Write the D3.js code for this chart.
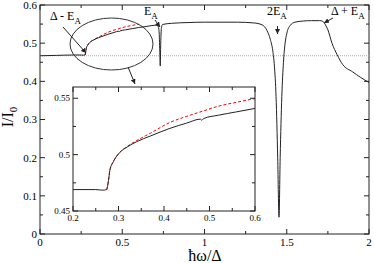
<!DOCTYPE html>
<html>
<head>
<meta charset="utf-8">
<script src="https://cdn.jsdelivr.net/npm/d3@7"></script>
<style>
  body { margin: 0; background: white; }
</style>
</head>
<body>
<div id="chart"></div>
<script>
// Main black curve (hbar omega / Delta, I/I0)
const omega = [0, 0.1, 0.2, 0.25, 0.265, 0.274, 0.278, 0.281, 0.289, 0.303, 0.32, 0.34, 0.37, 0.413, 0.45, 0.48, 0.483, 0.487, 0.52, 0.56, 0.60,
    0.65, 0.70, 0.718, 0.724, 0.728, 0.731, 0.734, 0.738, 0.745, 0.8, 0.9, 1.0, 1.1, 1.2, 1.3, 1.35, 1.38, 1.40, 1.415, 1.425, 1.435, 1.445, 1.453,
    1.46, 1.47, 1.48, 1.49, 1.50, 1.52, 1.55, 1.6, 1.65, 1.70, 1.72, 1.735, 1.75, 1.775, 1.806, 1.84, 1.9, 1.95, 2.0];
const intensity = [0.467, 0.468, 0.469, 0.469, 0.4685, 0.469, 0.477, 0.486, 0.494, 0.502, 0.507, 0.5115, 0.5165, 0.5233, 0.528, 0.5315, 0.5305, 0.532, 0.535, 0.538, 0.541,
    0.544, 0.547, 0.545, 0.53, 0.48, 0.44, 0.50, 0.54, 0.549, 0.552, 0.554, 0.555, 0.555, 0.555, 0.553, 0.548, 0.533, 0.51, 0.48, 0.44, 0.36, 0.20, 0.044,
    0.20, 0.36, 0.45, 0.50, 0.525, 0.546, 0.555, 0.558, 0.559, 0.559, 0.557, 0.548, 0.535, 0.50, 0.47, 0.444, 0.425, 0.41, 0.397];

// Red dashed curve
const omegaRed = [0.274, 0.278, 0.281, 0.289, 0.303, 0.32, 0.34, 0.37, 0.413, 0.45, 0.486, 0.52, 0.56, 0.60];
const intensityRed = [0.469, 0.477, 0.486, 0.494, 0.502, 0.5075, 0.5125, 0.519, 0.5285, 0.534, 0.5387, 0.543, 0.5465, 0.5497];

// Reference level (dotted)
const baseLevel = 0.467;

// Ticks
const xTicks = [0, 0.5, 1, 1.5, 2];
const xTickLabels = ['0', '0.5', '1', '1.5', '2'];
const yTicks = [0, 0.1, 0.2, 0.3, 0.4, 0.5, 0.6];
const yTickLabels = ['0', '0.1', '0.2', '0.3', '0.4', '0.5', '0.6'];
const insetXTicks = [0.2, 0.3, 0.4, 0.5, 0.6];
const insetXTickLabels = ['0.2', '0.3', '0.4', '0.5', '0.6'];
const insetYTicks = [0.45, 0.5, 0.55];
const insetYTickLabels = ['0.45', '0.5', '0.55'];

const width = 374, height = 263;

const svg = d3.select('#chart')
    .append('svg')
    .attr('width', width)
    .attr('height', height)
    .attr('font-family', '"Liberation Serif", "DejaVu Serif", serif')
    .style('background', 'white');

// arrow head
svg.append('defs').append('marker')
    .attr('id', 'arrow')
    .attr('viewBox', '0 0 10 10')
    .attr('refX', 10).attr('refY', 5)
    .attr('markerWidth', 5).attr('markerHeight', 5)
    .attr('markerUnits', 'userSpaceOnUse')
    .attr('orient', 'auto')
    .append('path')
    .attr('d', 'M0,0 L10,5 L0,10 z')
    .attr('fill', '#222');

// Main scales
const xScale = d3.scaleLinear().domain([0, 2]).range([40, 369]);
const yScale = d3.scaleLinear().domain([0, 0.6]).range([234, 5]);

// Framed axes with inward ticks on all four sides
function frame(g, xs, ys, xMajor, xLabels, xMinor, yMajor, yLabels, yMinor, fontSize, majLen, minLen, xLabOff, yLabOff) {
    const [x0, x1] = xs.range();
    const [y0, y1] = ys.range();
    g.append('rect')
        .attr('x', x0).attr('y', y1)
        .attr('width', x1 - x0).attr('height', y0 - y1)
        .attr('fill', 'none').attr('stroke', '#222').attr('stroke-width', 1);

    const tick = (x1_, y1_, x2_, y2_) => g.append('line')
        .attr('x1', x1_).attr('y1', y1_).attr('x2', x2_).attr('y2', y2_)
        .attr('stroke', '#222').attr('stroke-width', 1);

    xMajor.forEach(v => { tick(xs(v), y0, xs(v), y0 - majLen); tick(xs(v), y1, xs(v), y1 + majLen); });
    xMinor.forEach(v => { tick(xs(v), y0, xs(v), y0 - minLen); tick(xs(v), y1, xs(v), y1 + minLen); });
    yMajor.forEach(v => { tick(x0, ys(v), x0 + majLen, ys(v)); tick(x1, ys(v), x1 - majLen, ys(v)); });
    yMinor.forEach(v => { tick(x0, ys(v), x0 + minLen, ys(v)); tick(x1, ys(v), x1 - minLen, ys(v)); });

    g.selectAll('.xl').data(xMajor).enter().append('text')
        .attr('x', d => xs(d)).attr('y', y0 + xLabOff)
        .attr('text-anchor', 'middle')
        .style('font-size', fontSize + 'px')
        .text((d, i) => xLabels[i]);
    g.selectAll('.yl').data(yMajor).enter().append('text')
        .attr('x', x0 - yLabOff).attr('y', d => ys(d))
        .attr('dy', '0.35em')
        .attr('text-anchor', 'end')
        .style('font-size', fontSize + 'px')
        .text((d, i) => yLabels[i]);
}

const main = svg.append('g');
frame(main, xScale, yScale,
    xTicks, xTickLabels, [0.25, 0.75, 1.25, 1.75],
    yTicks, yTickLabels, [0.05, 0.15, 0.25, 0.35, 0.45, 0.55],
    11, 5, 3, 12, 3);

// dotted reference line
main.append('line')
    .attr('x1', xScale(0)).attr('x2', xScale(2))
    .attr('y1', yScale(baseLevel)).attr('y2', yScale(baseLevel))
    .attr('stroke', '#aaa').attr('stroke-width', 1)
    .attr('stroke-dasharray', '1,1');

const mainData = omega.map((w, i) => [w, intensity[i]]);
const redData = omegaRed.map((w, i) => [w, intensityRed[i]]);

const line = d3.line()
    .x(d => xScale(d[0]))
    .y(d => yScale(d[1]))
    .curve(d3.curveMonotoneX);

main.append('path')
    .datum(redData)
    .attr('d', line)
    .attr('fill', 'none').attr('stroke', '#ff0000').attr('stroke-width', 1)
    .attr('stroke-dasharray', '3,2');

main.append('path')
    .datum(mainData)
    .attr('d', line)
    .attr('fill', 'none').attr('stroke', '#222').attr('stroke-width', 1);

// ellipse around the onset and pointer to inset
main.append('ellipse')
    .attr('cx', 111.5).attr('cy', 44)
    .attr('rx', 41.5).attr('ry', 26)
    .attr('fill', 'none').attr('stroke', '#333').attr('stroke-width', 1);

main.append('line')
    .attr('x1', 128).attr('y1', 67).attr('x2', 135).attr('y2', 84)
    .attr('stroke', '#222').attr('marker-end', 'url(#arrow)');

// annotations
function label(x, y, pre, sub, anchorArrow) {
    const t = main.append('text').attr('x', x).attr('y', y).style('font-size', '12px');
    t.append('tspan').text(pre);
    t.append('tspan').attr('dy', 4).style('font-size', '9px').text(sub);
    if (anchorArrow) {
        main.append('line')
            .attr('x1', anchorArrow[0]).attr('y1', anchorArrow[1])
            .attr('x2', anchorArrow[2]).attr('y2', anchorArrow[3])
            .attr('stroke', '#222').attr('stroke-width', 1)
            .attr('marker-end', 'url(#arrow)');
    }
}
label(50, 20, 'Δ - E', 'A', [63, 27, 86, 53]);
label(144, 15, 'E', 'A', [155, 20, 160, 27]);
label(267, 15, '2E', 'A', [277.5, 26, 277.5, 34]);
label(331, 15, 'Δ + E', 'A', [333, 18, 324, 23]);

// axis titles
const ylab = svg.append('text')
    .attr('transform', 'translate(13,117) rotate(-90)')
    .attr('text-anchor', 'middle')
    .style('font-size', '16px');
ylab.append('tspan').text('I/I');
ylab.append('tspan').attr('dy', 4).style('font-size', '11px').text('0');

svg.append('text')
    .attr('x', 205).attr('y', 261)
    .attr('text-anchor', 'middle')
    .style('font-size', '16px')
    .text('ħω/Δ');

// Inset
const ixScale = d3.scaleLinear().domain([0.2, 0.6]).range([73, 255]);
const iyScale = d3.scaleLinear().domain([0.45, 0.56]).range([211, 87]);

const inset = svg.append('g');
inset.append('rect')
    .attr('x', 73).attr('y', 87).attr('width', 182).attr('height', 124)
    .attr('fill', 'white');

inset.append('clipPath').attr('id', 'insetClip')
    .append('rect').attr('x', 73).attr('y', 87).attr('width', 182).attr('height', 124);

const iline = d3.line()
    .x(d => ixScale(d[0]))
    .y(d => iyScale(d[1]))
    .curve(d3.curveMonotoneX);

const curves = inset.append('g').attr('clip-path', 'url(#insetClip)');
curves.append('path')
    .datum(redData)
    .attr('d', iline)
    .attr('fill', 'none').attr('stroke', '#ff0000').attr('stroke-width', 1)
    .attr('stroke-dasharray', '3,2');
curves.append('path')
    .datum(mainData.filter(d => d[0] >= 0.1 && d[0] <= 0.65))
    .attr('d', iline)
    .attr('fill', 'none').attr('stroke', '#222').attr('stroke-width', 1);

frame(inset, ixScale, iyScale,
    insetXTicks, insetXTickLabels, [0.25, 0.35, 0.45, 0.55],
    insetYTicks, insetYTickLabels, [0.475, 0.525],
    9, 5, 3, 10, 3);
</script>
</body>
</html>
